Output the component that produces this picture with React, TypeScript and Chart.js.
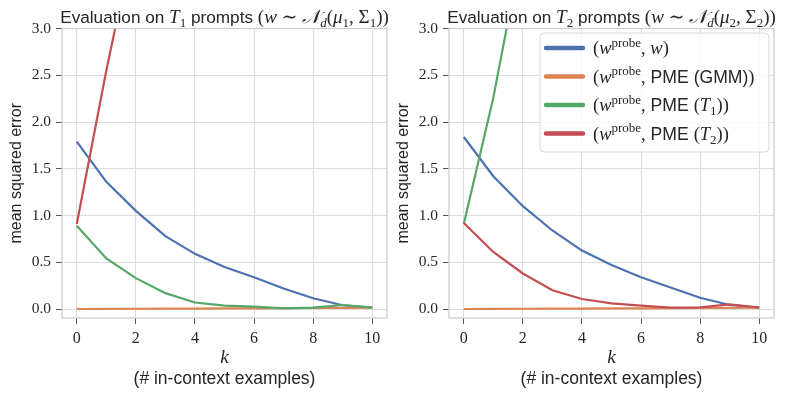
import React, { useEffect, useRef } from 'react';
import { Chart, registerables } from 'chart.js';

Chart.register(...registerables);

// ---------- data ----------
const kValues = [0, 1, 2, 3, 4, 5, 6, 7, 8, 9, 10];
const xTicks = [0, 2, 4, 6, 8, 10];
const yTicks = [0, 0.5, 1, 1.5, 2, 2.5, 3];
const xMin = -0.5;
const xMax = 10.5;
const yMin = -0.096;
const yMax = 3.0;

// Evaluation on T1 prompts
const t1ProbeW = [1.79, 1.36, 1.05, 0.78, 0.59, 0.45, 0.34, 0.22, 0.115, 0.04, 0.015];
const t1PmeGmm = [0.0, 0.002, 0.003, 0.004, 0.005, 0.006, 0.007, 0.009, 0.011, 0.013, 0.015];
const t1PmeT1 = [0.89, 0.54, 0.33, 0.17, 0.07, 0.036, 0.025, 0.008, 0.014, 0.043, 0.015];
const t1PmeT2 = [0.91, 2.55, 4.05, 5.4, 6.6, 7.6, 8.5, 9.2, 9.8, 10.3, 10.7];

// Evaluation on T2 prompts
const t2ProbeW = [1.84, 1.42, 1.1, 0.84, 0.625, 0.47, 0.34, 0.23, 0.12, 0.043, 0.015];
const t2PmeGmm = [0.0, 0.002, 0.003, 0.004, 0.005, 0.006, 0.007, 0.009, 0.011, 0.013, 0.015];
const t2PmeT1 = [0.91, 2.26, 3.9, 5.3, 6.5, 7.5, 8.4, 9.1, 9.7, 10.2, 10.6];
const t2PmeT2 = [0.92, 0.61, 0.38, 0.2, 0.107, 0.06, 0.036, 0.014, 0.018, 0.05, 0.016];

const COLORS = ['#4c72b0', '#dd8452', '#55a868', '#c44e52'];

// ---------- text helpers ----------
const SANS = "'Liberation Sans', Arial, sans-serif";
const SERIF = "'Liberation Serif', 'DejaVu Serif', serif";
const TEXT = '#262626';

type Seg = { t: string; font: string; dy?: number };
const sans = (t: string, s = 17.2): Seg => ({ t, font: `${s}px ${SANS}` });
const ser = (t: string, s = 19): Seg => ({ t, font: `${s}px ${SERIF}` });
const it = (t: string, s = 19): Seg => ({ t, font: `italic ${s}px ${SERIF}` });
const sub = (t: string, s = 19, italic = false): Seg => ({
  t,
  font: `${italic ? 'italic ' : ''}${Math.round(s * 0.7)}px ${SERIF}`,
  dy: s * 0.22,
});
const sup = (t: string, s = 19): Seg => ({ t, font: `${Math.round(s * 0.7)}px ${SERIF}`, dy: -s * 0.38 });

function drawRich(ctx: CanvasRenderingContext2D, segs: Seg[], x: number, y: number, align: 'center' | 'left') {
  ctx.save();
  ctx.textBaseline = 'alphabetic';
  ctx.textAlign = 'left';
  ctx.fillStyle = TEXT;
  let w = 0;
  for (const s of segs) {
    ctx.font = s.font;
    w += ctx.measureText(s.t).width;
  }
  let cx = align === 'center' ? x - w / 2 : x;
  for (const s of segs) {
    ctx.font = s.font;
    ctx.fillText(s.t, cx, y + (s.dy || 0));
    cx += ctx.measureText(s.t).width;
  }
  ctx.restore();
}

const titleSegs = (n: string): Seg[] => [
  sans('Evaluation on '),
  it('T'),
  sub(n),
  sans(' prompts '),
  ser('('),
  it('w'),
  ser(' ∼ '),
  it('𝒩'),
  sub('d', 19, true),
  ser('('),
  it('μ'),
  sub(n),
  ser(', '),
  ser('Σ'),
  sub(n),
  ser('))'),
];

const LM = 18.5;
const LS = 17.6;
const probe = (): Seg[] => [ser('(', LM), it('w', LM), sup('probe', LM)];
const legendItems: Seg[][] = [
  [...probe(), ser(', ', LM), it('w', LM), ser(')', LM)],
  [...probe(), ser(',', LM), sans(' PME (GMM)', LS), ser(')', LM)],
  [...probe(), ser(',', LM), sans(' PME ', LS), ser('(', LM), it('T', LM), sub('1', LM), ser('))', LM)],
  [...probe(), ser(',', LM), sans(' PME ', LS), ser('(', LM), it('T', LM), sub('2', LM), ser('))', LM)],
];

function makeDecor(n: string, withLegend: boolean) {
  return {
    id: 'decor' + n,
    afterDraw(chart: any) {
      const ctx: CanvasRenderingContext2D = chart.ctx;
      const a = chart.chartArea;
      // spines
      ctx.save();
      ctx.strokeStyle = '#cccccc';
      ctx.lineWidth = 1.25;
      ctx.strokeRect(a.left, a.top, a.right - a.left, a.bottom - a.top);
      ctx.restore();
      const cx = (a.left + a.right) / 2;
      // title
      drawRich(ctx, titleSegs(n), cx, a.top - 6, 'center');
      // x label
      drawRich(ctx, [it('k', 19)], cx, 363, 'center');
      drawRich(ctx, [sans('(# in-context examples)', 17.5)], cx, 384, 'center');
      // y label
      ctx.save();
      ctx.translate(21, (a.top + a.bottom) / 2);
      ctx.rotate(-Math.PI / 2);
      ctx.font = `16px ${SANS}`;
      ctx.fillStyle = TEXT;
      ctx.textAlign = 'center';
      ctx.textBaseline = 'alphabetic';
      ctx.fillText('mean squared error', 0, 0);
      ctx.restore();
      // legend
      if (withLegend) {
        const bw = 229;
        const bh = 119;
        const bx = a.right - 5 - bw;
        const by = a.top + 4.5;
        ctx.save();
        ctx.beginPath();
        (ctx as any).roundRect(bx, by, bw, bh, 4);
        ctx.fillStyle = 'rgba(255,255,255,0.85)';
        ctx.fill();
        ctx.strokeStyle = '#d8d8d8';
        ctx.lineWidth = 1;
        ctx.stroke();
        ctx.restore();
        legendItems.forEach((segs, i) => {
          const yc = by + 15 + i * 28.5;
          ctx.save();
          ctx.strokeStyle = COLORS[i];
          ctx.lineWidth = 4.5;
          ctx.lineCap = 'round';
          ctx.beginPath();
          ctx.moveTo(bx + 6, yc);
          ctx.lineTo(bx + 43, yc);
          ctx.stroke();
          ctx.restore();
          drawRich(ctx, segs, bx + 53, yc + 6, 'left');
        });
      }
    },
  };
}

function makeConfig(series: number[][], n: string, withLegend: boolean): any {
  const names = ['(w^probe, w)', '(w^probe, PME (GMM))', '(w^probe, PME (T1))', '(w^probe, PME (T2))'];
  return {
    type: 'line',
    data: {
      datasets: series.map((arr, i) => ({
        label: names[i],
        data: kValues.map((k, j) => ({ x: k, y: arr[j] })),
        borderColor: COLORS[i],
        backgroundColor: COLORS[i],
        borderWidth: 2.2,
        pointRadius: 0,
        tension: 0,
        fill: false,
        order: 3 - i,
      })),
    },
    options: {
      responsive: false,
      animation: false,
      events: [],
      layout: { padding: { left: 0, top: 28.5, right: 15, bottom: 0 } },
      plugins: { legend: { display: false }, title: { display: false }, tooltip: { enabled: false } },
      scales: {
        x: {
          type: 'linear',
          min: xMin,
          max: xMax,
          afterBuildTicks: (s: any) => {
            s.ticks = xTicks.map((v) => ({ value: v }));
          },
          afterFit: (s: any) => {
            s.height = 78;
          },
          ticks: {
            color: TEXT,
            font: { family: SERIF, size: 16 },
            padding: 5,
            maxRotation: 0,
            callback: (v: any) => String(v),
          },
          grid: { color: '#dddddd', lineWidth: 1, tickColor: '#555555', tickLength: 6, drawTicks: true },
          border: { display: false },
        },
        y: {
          type: 'linear',
          min: yMin,
          max: yMax,
          afterBuildTicks: (s: any) => {
            s.ticks = yTicks.map((v) => ({ value: v }));
          },
          afterFit: (s: any) => {
            s.width = 62;
          },
          ticks: {
            color: TEXT,
            font: { family: SERIF, size: 15.5 },
            padding: 5,
            callback: (v: any) => Number(v).toFixed(1),
          },
          grid: { color: '#dddddd', lineWidth: 1, tickColor: '#555555', tickLength: 6, drawTicks: true },
          border: { display: false },
        },
      },
    },
    plugins: [makeDecor(n, withLegend)],
  };
}

export default function App() {
  const leftRef = useRef<HTMLCanvasElement>(null);
  const rightRef = useRef<HTMLCanvasElement>(null);

  useEffect(() => {
    document.body.style.margin = '0';
    const left = makeConfig([t1ProbeW, t1PmeGmm, t1PmeT1, t1PmeT2], '1', false);
    left.options.layout.padding.right = 13;
    const c1 = new Chart(leftRef.current as HTMLCanvasElement, left);
    const c2 = new Chart(rightRef.current as HTMLCanvasElement, makeConfig([t2ProbeW, t2PmeGmm, t2PmeT1, t2PmeT2], '2', true));
    return () => {
      c1.destroy();
      c2.destroy();
    };
  }, []);

  return (
    <div style={{ position: 'absolute', left: 0, top: 0, width: 789, height: 396, background: '#ffffff', overflow: 'hidden' }}>
      <canvas ref={leftRef} width={400} height={396} style={{ position: 'absolute', left: 0, top: 0, width: 400, height: 396 }} />
      <canvas ref={rightRef} width={402} height={396} style={{ position: 'absolute', left: 387, top: 0, width: 402, height: 396 }} />
    </div>
  );
}
